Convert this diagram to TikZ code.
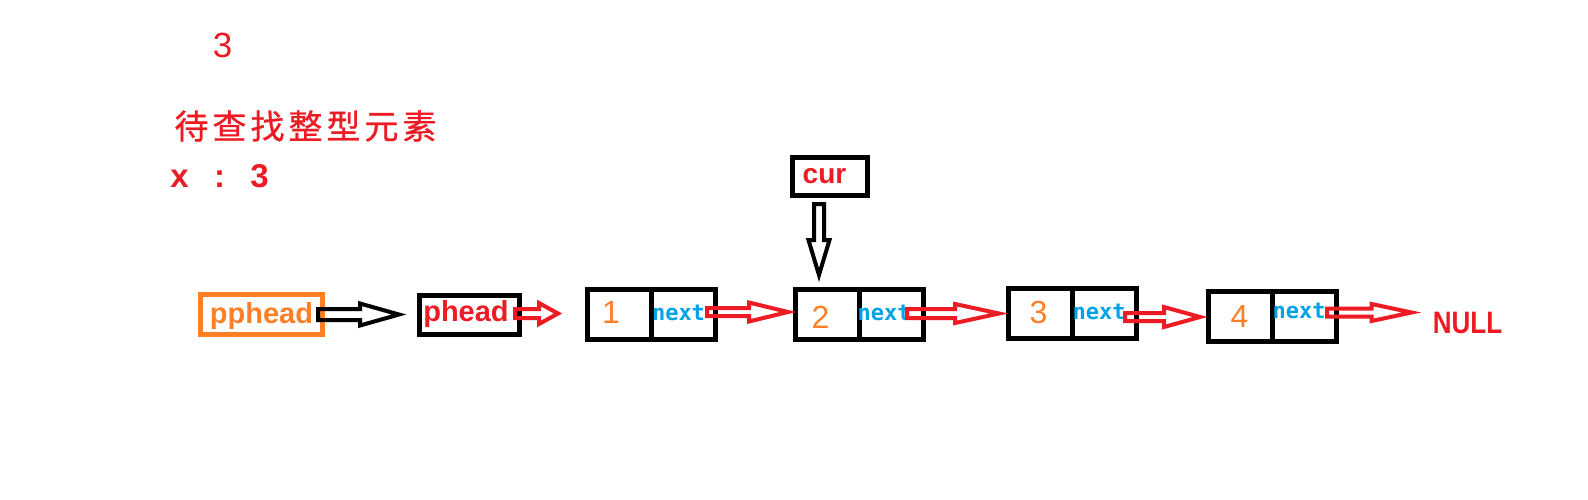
\documentclass[tikz,border=0pt]{standalone}
\usepackage{fontspec}
\setmainfont{Liberation Sans}
\newfontfamily\cjkfont[FakeBold=0.8]{Noto Sans CJK SC}
\newfontfamily\nextfont{DejaVu Sans Mono}
\usetikzlibrary{calc}
\definecolor{pred}{RGB}{237,28,36}
\definecolor{porange}{RGB}{255,127,39}
\definecolor{pblue}{RGB}{0,162,232}
% horizontal hollow arrow: style, start, tip, head length, shaft half, head half
\newcommand\harrowdraw[6]{\draw[#1] let \p1=(#2), \p2=(#3) in
  (\x1,{\y1+#5pt}) -- ({\x2-#4pt},{\y1+#5pt}) -- ({\x2-#4pt},{\y1+#6pt}) -- (\x2,\y1)
  -- ({\x2-#4pt},{\y1-#6pt}) -- ({\x2-#4pt},{\y1-#5pt}) -- (\x1,{\y1-#5pt}) -- cycle;}
% vertical (downward) hollow arrow
\newcommand\varrowdraw[6]{\draw[#1] let \p1=(#2), \p2=(#3) in
  ({\x1-#5pt},\y1) -- ({\x1-#5pt},{\y2+#4pt}) -- ({\x1-#6pt},{\y2+#4pt}) -- (\x1,\y2)
  -- ({\x1+#6pt},{\y2+#4pt}) -- ({\x1+#5pt},{\y2+#4pt}) -- ({\x1+#5pt},\y1) -- cycle;}
\begin{document}
\begin{tikzpicture}[x=1pt,y=-1pt,
  box/.style={draw=black, line width=5pt, inner sep=0pt, minimum width=64pt, minimum height=50pt},
  lbl/.style={inner sep=0pt, anchor=base},
  boldlbl/.style={lbl, font=\bfseries\fontsize{29}{29}\selectfont},
  digit/.style={lbl, text=porange, font=\fontsize{32}{32}\selectfont},
  nxt/.style={lbl, text=pblue, font=\nextfont\bfseries\fontsize{22}{22}\selectfont},
  harr/.style={line width=4pt, line join=miter},
]
\fill[white] (0,0) rectangle (1588,499);
\useasboundingbox (0,0) rectangle (1588,499);

% top texts
\node[lbl, text=pred, font=\fontsize{35}{35}\selectfont] (topthree) at (222.5,57) {3};
\node[inner sep=0pt, text=pred, font=\cjkfont\fontsize{34}{34}\selectfont] (cjk) at (305.5,126)
  {待\hspace{4pt}查\hspace{4pt}找\hspace{4pt}整\hspace{4pt}型\hspace{4pt}元\hspace{4pt}素};
\node[lbl, text=pred, font=\bfseries\fontsize{33}{33}\selectfont] (xvar) at (179.5,187) {x};
\node[lbl, text=pred, font=\bfseries\fontsize{33}{33}\selectfont] (xcolon) at (219.5,187) {:};
\node[lbl, text=pred, font=\bfseries\fontsize{33}{33}\selectfont] (xval) at (259.5,187) {3};

% pointer boxes
\node[box, draw=porange, minimum width=122pt, minimum height=40pt] (pp) at (261.5,314.5) {};
\node[boldlbl, text=porange] (pptxt) at (261.5,323) {pphead};
\node[box, minimum width=100pt, minimum height=39pt] (ph) at (469,315) {};
\node[boldlbl, text=pred] (phtxt) at (466,321) {phead};
\node[box, minimum width=75pt, minimum height=38pt] (cur) at (830,176.5) {};
\node[boldlbl, text=pred, font=\bfseries\fontsize{28}{28}\selectfont] (curtxt) at (824.5,183) {cur};

% list nodes
\node[box] (n1a) at (619.5,314) {};
\node[box] (n1b) at (683.5,314) {};
\node[box] (n2a) at (827.5,314) {};
\node[box] (n2b) at (891.5,314) {};
\node[box] (n3a) at (1040.5,313.5) {};
\node[box] (n3b) at (1104.5,313.5) {};
\node[box] (n4a) at (1240.5,316.5) {};
\node[box] (n4b) at (1304.5,316.5) {};

\node[digit] (d1) at (611,323) {1};
\node[digit] (d2) at (820.5,328) {2};
\node[digit] (d3) at (1038.5,323) {3};
\node[digit] (d4) at (1239.5,327) {4};
\node[nxt] (x1) at (678.5,320) {next};
\node[nxt] (x2) at (884,320) {next};
\node[nxt] (x3) at (1099,319) {next};
\node[nxt] (x4) at (1299,318) {next};

\node[lbl, text=pred, font=\bfseries\fontsize{31}{31}\selectfont] (nul) at (1467.5,333) {\scalebox{0.84}[1]{NULL}};

% arrow end points
\coordinate (a0s) at ($(pp.east)+(-7,0)$);
\coordinate (a0t) at ($(ph.west)+(-17.5,0)$);
\coordinate (aps) at ($(ph.east)+(-6.5,-1.5)$);
\coordinate (apt) at ($(n1a.west)+(-27,0)$);
\coordinate (a1s) at ($(n1b.east)+(-11,-2)$);
\coordinate (a1t) at ($(n2a.west)+(-5,0)$);
\coordinate (a2s) at ($(n2b.east)+(-19,-0.5)$);
\coordinate (a2t) at ($(n3a.west)+(-7,0)$);
\coordinate (a3s) at ($(n3b.east)+(-14,3.5)$);
\coordinate (a3t) at ($(n4a.west)+(-6,0)$);
\coordinate (a4s) at ($(n4b.east)+(-12,-4)$);
\coordinate (a4t) at ($(nul.west)+(-21,0)$);
\coordinate (acs) at ($(cur.south)+(-11,6)$);
\coordinate (act) at ($(n2a.north)+(-8.5,-11.5)$);

% arrows
\harrowdraw{harr, draw=black}{a0s}{a0t}{39}{5.5}{11}
\harrowdraw{harr, draw=pred}{aps}{apt}{19}{4.5}{10.5}
\harrowdraw{harr, draw=pred}{a1s}{a1t}{39}{4}{9.5}
\harrowdraw{harr, draw=pred}{a2s}{a2t}{44}{4.5}{9.5}
\harrowdraw{harr, draw=pred}{a3s}{a3t}{36}{4}{10}
\harrowdraw{harr, draw=pred}{a4s}{a4t}{40}{4}{8.5}
\varrowdraw{harr, draw=black}{acs}{act}{35}{5}{10.5}
\end{tikzpicture}
\end{document}
